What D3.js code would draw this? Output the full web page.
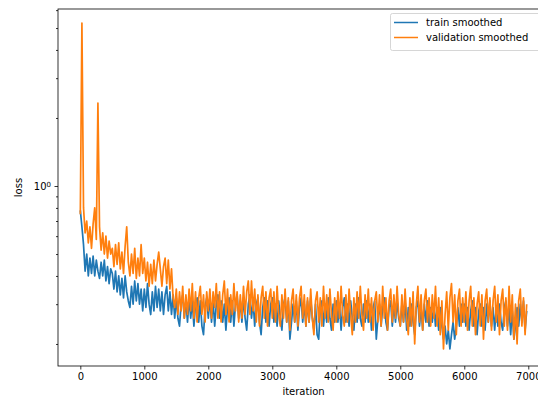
<!DOCTYPE html>
<html>
<head>
<meta charset="utf-8">
<script src="https://cdn.jsdelivr.net/npm/d3@7"></script>
<style>
  body { margin: 0; background: #fff; }
  text { font-family: "DejaVu Sans", sans-serif; }
</style>
</head>
<body>
<script>
// one value every 25 iterations, 0 .. 6975
var step = 25;

var trainLoss = [
  0.78, 0.66, 0.55, 0.42, 0.50, 0.40, 0.48, 0.41, 0.49, 0.40, 0.47, 0.42, 0.39, 0.46, 0.40, 0.47, 0.38, 0.44, 0.37, 0.43,
  0.41, 0.35, 0.42, 0.34, 0.40, 0.33, 0.39, 0.32, 0.40, 0.34, 0.31, 0.29, 0.36, 0.30, 0.38, 0.31, 0.37, 0.30, 0.35, 0.28,
  0.35, 0.29, 0.37, 0.30, 0.27, 0.34, 0.28, 0.36, 0.29, 0.35, 0.28, 0.34, 0.27, 0.33, 0.36, 0.28, 0.34, 0.27, 0.33, 0.26,
  0.32, 0.26, 0.24, 0.30, 0.33, 0.26, 0.31, 0.25, 0.32, 0.26, 0.31, 0.24, 0.30, 0.32, 0.25, 0.31, 0.24, 0.22, 0.29, 0.32,
  0.26, 0.32, 0.25, 0.31, 0.24, 0.30, 0.33, 0.26, 0.31, 0.25, 0.30, 0.23, 0.29, 0.32, 0.25, 0.31, 0.24, 0.30, 0.33, 0.26,
  0.31, 0.25, 0.32, 0.26, 0.23, 0.30, 0.33, 0.26, 0.31, 0.24, 0.30, 0.32, 0.25, 0.22, 0.29, 0.32, 0.25, 0.31, 0.24, 0.30,
  0.32, 0.25, 0.30, 0.24, 0.31, 0.26, 0.23, 0.30, 0.32, 0.25, 0.31, 0.21, 0.25, 0.30, 0.25, 0.31, 0.23, 0.29, 0.32, 0.25,
  0.30, 0.24, 0.31, 0.25, 0.32, 0.26, 0.23, 0.30, 0.22, 0.21, 0.29, 0.31, 0.24, 0.30, 0.25, 0.32, 0.26, 0.23, 0.30, 0.25,
  0.31, 0.25, 0.30, 0.23, 0.29, 0.32, 0.25, 0.30, 0.24, 0.31, 0.26, 0.23, 0.30, 0.25, 0.32, 0.26, 0.24, 0.30, 0.25, 0.31,
  0.25, 0.30, 0.23, 0.29, 0.31, 0.21, 0.26, 0.30, 0.24, 0.29, 0.32, 0.25, 0.23, 0.29, 0.31, 0.24, 0.30, 0.25, 0.31, 0.26,
  0.24, 0.30, 0.25, 0.31, 0.23, 0.29, 0.24, 0.30, 0.25, 0.22, 0.29, 0.31, 0.24, 0.29, 0.23, 0.30, 0.25, 0.31, 0.24, 0.29,
  0.25, 0.30, 0.24, 0.29, 0.23, 0.29, 0.24, 0.21, 0.24, 0.20, 0.23, 0.19, 0.22, 0.25, 0.21, 0.24, 0.29, 0.24, 0.30, 0.25,
  0.30, 0.24, 0.29, 0.23, 0.28, 0.31, 0.24, 0.29, 0.22, 0.28, 0.30, 0.24, 0.29, 0.23, 0.30, 0.25, 0.31, 0.24, 0.29, 0.23,
  0.29, 0.24, 0.30, 0.25, 0.23, 0.29, 0.31, 0.24, 0.29, 0.22, 0.28, 0.21, 0.24, 0.29, 0.24, 0.30, 0.25, 0.31, 0.23, 0.28
];

var valLoss = [
  0.75, 5.26, 0.80, 0.62, 0.70, 0.56, 0.66, 0.53, 0.68, 0.80, 0.58, 2.33, 0.66, 0.52, 0.62, 0.50, 0.60, 0.48, 0.57, 0.50,
  0.53, 0.44, 0.55, 0.45, 0.56, 0.43, 0.51, 0.41, 0.54, 0.66, 0.46, 0.40, 0.50, 0.41, 0.53, 0.39, 0.48, 0.40, 0.55, 0.41,
  0.48, 0.38, 0.46, 0.36, 0.45, 0.37, 0.47, 0.38, 0.45, 0.51, 0.43, 0.36, 0.44, 0.48, 0.37, 0.47, 0.35, 0.43, 0.32, 0.29,
  0.35, 0.27, 0.34, 0.28, 0.36, 0.26, 0.33, 0.27, 0.35, 0.28, 0.37, 0.26, 0.34, 0.25, 0.32, 0.36, 0.27, 0.33, 0.25, 0.34,
  0.28, 0.35, 0.26, 0.34, 0.29, 0.37, 0.26, 0.34, 0.25, 0.33, 0.38, 0.27, 0.35, 0.25, 0.33, 0.27, 0.37, 0.28, 0.34, 0.25,
  0.33, 0.26, 0.36, 0.27, 0.34, 0.38, 0.27, 0.38, 0.28, 0.35, 0.25, 0.33, 0.24, 0.32, 0.36, 0.26, 0.34, 0.24, 0.32, 0.35,
  0.26, 0.34, 0.25, 0.36, 0.27, 0.24, 0.33, 0.26, 0.35, 0.25, 0.32, 0.23, 0.31, 0.35, 0.25, 0.33, 0.24, 0.32, 0.36, 0.26,
  0.33, 0.24, 0.32, 0.25, 0.35, 0.26, 0.22, 0.31, 0.34, 0.25, 0.32, 0.24, 0.36, 0.26, 0.33, 0.25, 0.35, 0.27, 0.23, 0.32,
  0.25, 0.34, 0.26, 0.36, 0.27, 0.24, 0.33, 0.25, 0.35, 0.27, 0.22, 0.32, 0.25, 0.34, 0.26, 0.36, 0.27, 0.23, 0.33, 0.26,
  0.35, 0.25, 0.32, 0.23, 0.31, 0.34, 0.25, 0.33, 0.24, 0.36, 0.26, 0.32, 0.23, 0.31, 0.35, 0.25, 0.33, 0.26, 0.36, 0.27,
  0.24, 0.33, 0.25, 0.35, 0.26, 0.22, 0.32, 0.24, 0.34, 0.20, 0.30, 0.36, 0.25, 0.33, 0.23, 0.31, 0.35, 0.25, 0.32, 0.24,
  0.33, 0.26, 0.36, 0.24, 0.32, 0.22, 0.31, 0.19, 0.27, 0.34, 0.23, 0.32, 0.37, 0.25, 0.33, 0.22, 0.31, 0.35, 0.24, 0.32,
  0.25, 0.34, 0.23, 0.31, 0.36, 0.24, 0.32, 0.22, 0.30, 0.34, 0.24, 0.33, 0.21, 0.31, 0.35, 0.25, 0.32, 0.23, 0.31, 0.36,
  0.25, 0.33, 0.22, 0.31, 0.35, 0.24, 0.32, 0.23, 0.36, 0.25, 0.33, 0.21, 0.30, 0.20, 0.31, 0.35, 0.24, 0.32, 0.22, 0.30
];

var xTicks = [0, 1000, 2000, 3000, 4000, 5000, 6000, 7000];
var yMajor = [1];
var yMinor = [0.2, 0.3, 0.4, 0.5, 0.6, 0.7, 0.8, 0.9, 2, 3, 4, 5, 6];
var seriesNames = ["train smoothed", "validation smoothed"];
var colors = ["#1f77b4", "#ff7f0e"];

var W = 538, H = 398;
var mLeft = 58, mRight = 549, mTop = 9, mBottom = 366;

var lastIt = (trainLoss.length - 1) * step;
var pad = lastIt * 0.05;
var x = d3.scaleLinear().domain([-pad, lastIt + pad]).range([mLeft, mRight]);
var y = d3.scaleLog().domain([0.1598, 6.07]).range([mBottom, mTop]);

var svg = d3.select("body").append("svg")
  .attr("width", W)
  .attr("height", H);

var line = d3.line()
  .x((d, i) => x(i * step))
  .y(d => y(d));

var plot = svg.append("g");
[trainLoss, valLoss].forEach((s, k) => {
  plot.append("path")
    .attr("d", line(s))
    .attr("fill", "none")
    .attr("stroke", colors[k])
    .attr("stroke-width", 1.7)
    .attr("stroke-linejoin", "round");
});

// axes
svg.append("g")
  .attr("transform", "translate(0," + mBottom + ")")
  .call(d3.axisBottom(x).tickValues(xTicks).tickSize(3.5).tickPadding(3.5).tickFormat(d3.format("d")));

svg.append("g")
  .attr("transform", "translate(" + mLeft + ",0)")
  .call(d3.axisLeft(y).tickValues(yMinor).tickSize(2).tickFormat(""));

var yMaj = svg.append("g")
  .attr("transform", "translate(" + mLeft + ",0)")
  .call(d3.axisLeft(y).tickValues(yMajor).tickSize(3.5).tickPadding(3.5).tickFormat(""));

yMaj.selectAll(".tick text")
  .text(null)
  .call(t => {
    t.append("tspan").text("10");
    t.append("tspan").attr("dy", "-0.45em").attr("font-size", "7px").text("0");
  });

svg.selectAll(".domain").remove();
svg.selectAll(".tick line").attr("stroke", "#000").attr("stroke-width", 0.8);
svg.selectAll(".tick text").attr("fill", "#000").attr("font-size", "10px")
  .attr("font-family", "DejaVu Sans, sans-serif");

// spines
svg.append("rect")
  .attr("x", mLeft).attr("y", mTop)
  .attr("width", mRight - mLeft).attr("height", mBottom - mTop)
  .attr("fill", "none")
  .attr("stroke", "#000")
  .attr("stroke-width", 0.8);

svg.append("text")
  .attr("x", (mLeft + mRight) / 2).attr("y", 395)
  .attr("text-anchor", "middle")
  .attr("font-size", "10px")
  .text("iteration");

svg.append("text")
  .attr("transform", "translate(22," + (mTop + mBottom) / 2 + ") rotate(-90)")
  .attr("text-anchor", "middle")
  .attr("font-size", "10px")
  .text("loss");

// legend
var lg = svg.append("g");
lg.append("rect")
  .attr("x", 390.5).attr("y", 13.5)
  .attr("width", 153).attr("height", 37)
  .attr("rx", 2)
  .attr("fill", "#fff").attr("fill-opacity", 0.8)
  .attr("stroke", "#ccc").attr("stroke-width", 0.8);

seriesNames.forEach((name, k) => {
  var cy = 22.5 + k * 15;
  lg.append("line")
    .attr("x1", 394).attr("x2", 418)
    .attr("y1", cy).attr("y2", cy)
    .attr("stroke", colors[k]).attr("stroke-width", 1.5);
  lg.append("text")
    .attr("x", 426).attr("y", cy + 3.5)
    .attr("font-size", "10px")
    .text(name);
});
</script>
</body>
</html>
